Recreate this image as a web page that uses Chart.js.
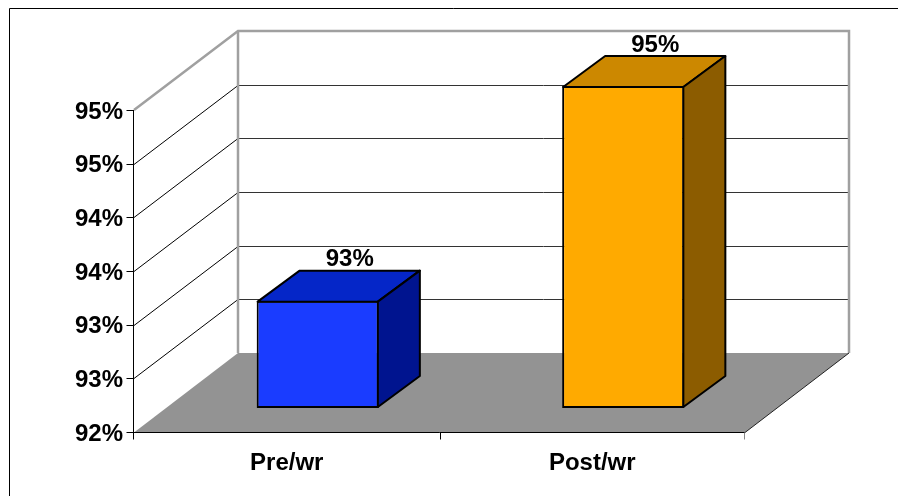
<!DOCTYPE html>
<html>
<head>
<meta charset="utf-8">
<script src="https://cdn.jsdelivr.net/npm/chart.js@4.4.1/dist/chart.umd.min.js"></script>
<style>
  html, body { margin: 0; padding: 0; background: #fff; }
  canvas { display: block; }
</style>
</head>
<body>
<canvas id="chart" width="898" height="496"></canvas>
<script>
const categories = ['Pre/wr', 'Post/wr'];
const values = [93, 95];
const tickLabels = ['92%', '93%', '93%', '94%', '94%', '95%', '95%'];
const frontColors = ['#1a3cff', '#ffaa00'];
const topColors = ['#0526c8', '#cc8800'];
const sideColors = ['#00148f', '#8c5c00'];

// Oblique depth offsets, measured from the plane the bars stand in
const FRONT = { dx: -31, dy: 24 };     // front edge of floor and left wall
const BACK = { dx: 73, dy: -55 };      // back wall
const BAR_DEPTH = { dx: 42, dy: -31 }; // thickness of each bar

const FONT = { family: "'Liberation Sans', Arial, sans-serif", size: 24, weight: 'bold' };

function line(ctx, pts) {
  ctx.beginPath();
  ctx.moveTo(pts[0][0], pts[0][1]);
  for (let i = 1; i < pts.length; i++) ctx.lineTo(pts[i][0], pts[i][1]);
  ctx.stroke();
}
function poly(ctx, pts, fill, stroke, lw) {
  ctx.beginPath();
  ctx.moveTo(pts[0][0], pts[0][1]);
  for (let i = 1; i < pts.length; i++) ctx.lineTo(pts[i][0], pts[i][1]);
  ctx.closePath();
  ctx.fillStyle = fill;
  ctx.fill();
  if (stroke) { ctx.strokeStyle = stroke; ctx.lineWidth = lw; ctx.stroke(); }
}

// Walls, floor and gridlines of the 3D box
const box3d = {
  id: 'box3d',
  beforeDraw(chart) {
    const ctx = chart.ctx;
    const xs = chart.scales.x, ys = chart.scales.y;
    const yTop = ys.getPixelForValue(ys.max);
    const yBot = ys.getPixelForValue(ys.min);
    const fx = xs.left + FRONT.dx, frx = xs.right + FRONT.dx;
    const bx = xs.left + BACK.dx, brx = xs.right + BACK.dx;
    ctx.save();

    // outer frame
    ctx.strokeStyle = '#000';
    ctx.lineWidth = 1;
    line(ctx, [[9.5, 496], [9.5, 8.5], [898, 8.5]]);

    // back wall and left wall
    poly(ctx, [[bx, yTop + BACK.dy], [brx, yTop + BACK.dy], [brx, yBot + BACK.dy], [bx, yBot + BACK.dy]], '#fff');
    poly(ctx, [[fx, yTop + FRONT.dy], [bx, yTop + BACK.dy], [bx, yBot + BACK.dy], [fx, yBot + FRONT.dy]], '#fff');

    // gridlines
    ctx.lineWidth = 1;
    ys.ticks.forEach(t => {
      if (t.value <= ys.min || t.value >= ys.max) return;
      const p = Math.round(ys.getPixelForValue(t.value)) + 0.5;
      ctx.strokeStyle = '#333';
      line(ctx, [[bx, p + BACK.dy], [brx, p + BACK.dy]]);
      ctx.strokeStyle = '#000';
      line(ctx, [[fx, p + FRONT.dy], [bx, p + BACK.dy]]);
    });

    // floor
    const fy = Math.round(yBot + FRONT.dy) + 0.5;
    poly(ctx, [[fx, fy], [frx, fy], [brx, yBot + BACK.dy], [bx, yBot + BACK.dy]], '#939393');

    // wall borders
    ctx.strokeStyle = '#a0a0a0';
    ctx.lineWidth = 2.5;
    ctx.lineJoin = 'miter';
    line(ctx, [[fx, yTop + FRONT.dy], [bx, yTop + BACK.dy], [brx, yTop + BACK.dy], [brx, yBot + BACK.dy]]);
    line(ctx, [[bx, yTop + BACK.dy], [bx, yBot + BACK.dy]]);

    // front axis lines and tick marks
    ctx.strokeStyle = '#000';
    ctx.lineWidth = 1;
    const ax = Math.round(fx) - 0.5;
    line(ctx, [[ax, yTop + FRONT.dy], [ax, fy + 7]]);
    line(ctx, [[ax, fy], [frx, fy]]);
    ctx.strokeStyle = '#222';
    line(ctx, [[frx, fy], [brx, yBot + BACK.dy]]);
    ctx.strokeStyle = '#000';
    ys.ticks.forEach(t => {
      const p = Math.round(ys.getPixelForValue(t.value) + FRONT.dy) + 0.5;
      line(ctx, [[ax - 7, p], [ax, p]]);
    });
    const mid = Math.round((xs.left + xs.right) / 2 + FRONT.dx) + 0.5;
    line(ctx, [[mid, fy], [mid, fy + 7]]);
    ctx.strokeStyle = '#888';
    line(ctx, [[Math.round(frx) - 0.5, fy], [Math.round(frx) - 0.5, fy + 7]]);
    ctx.restore();
  },
  afterDatasetsDraw(chart) {
    const ctx = chart.ctx;
    const meta = chart.getDatasetMeta(0);
    ctx.save();
    ctx.lineJoin = 'round';
    meta.data.forEach((bar, i) => {
      const { x, y, base, width } = bar.getProps(['x', 'y', 'base', 'width'], true);
      const l = x - width / 2 + 1, r = x + width / 2 - 1;
      const t = y + 1, b = base - 1;
      const dx = BAR_DEPTH.dx, dy = BAR_DEPTH.dy;
      poly(ctx, [[l, t], [r, t], [r + dx, t + dy], [l + dx, t + dy]], topColors[i], '#000', 2);
      poly(ctx, [[r, t], [r + dx, t + dy], [r + dx, b + dy], [r, b]], sideColors[i], '#000', 2);
      ctx.fillStyle = '#000';
      ctx.font = `${FONT.weight} ${FONT.size}px ${FONT.family}`;
      ctx.textAlign = 'center';
      ctx.textBaseline = 'middle';
      ctx.fillText(Math.round(values[i]) + '%', x + 32, y - 41);
    });
    ctx.restore();
  }
};

new Chart(document.getElementById('chart'), {
  type: 'bar',
  data: {
    labels: categories,
    datasets: [{
      data: values,
      base: 92,
      backgroundColor: frontColors,
      borderColor: '#000',
      borderWidth: 2,
      borderSkipped: false,
      categoryPercentage: 0.4,
      barPercentage: 1
    }]
  },
  options: {
    responsive: false,
    animation: false,
    devicePixelRatio: 1,
    layout: { padding: { top: 86, right: 122, bottom: 0, left: 0 } },
    plugins: { legend: { display: false }, tooltip: { enabled: false } },
    scales: {
      x: {
        grid: { display: false, drawTicks: false },
        border: { display: false },
        ticks: {
          color: '#000',
          font: FONT,
          padding: 41,
          labelOffset: FRONT.dx,
          maxRotation: 0
        },
        afterFit(scale) { scale.height = 88; }
      },
      y: {
        min: 92,
        max: 95,
        grid: { display: false, drawTicks: false },
        border: { display: false },
        ticks: {
          stepSize: 0.5,
          color: '#000',
          font: FONT,
          padding: 42,
          labelOffset: FRONT.dy + 2,
          callback: (value, index) => tickLabels[index]
        },
        afterFit(scale) { scale.width = 165; }
      }
    }
  },
  plugins: [box3d]
});
</script>
</body>
</html>
